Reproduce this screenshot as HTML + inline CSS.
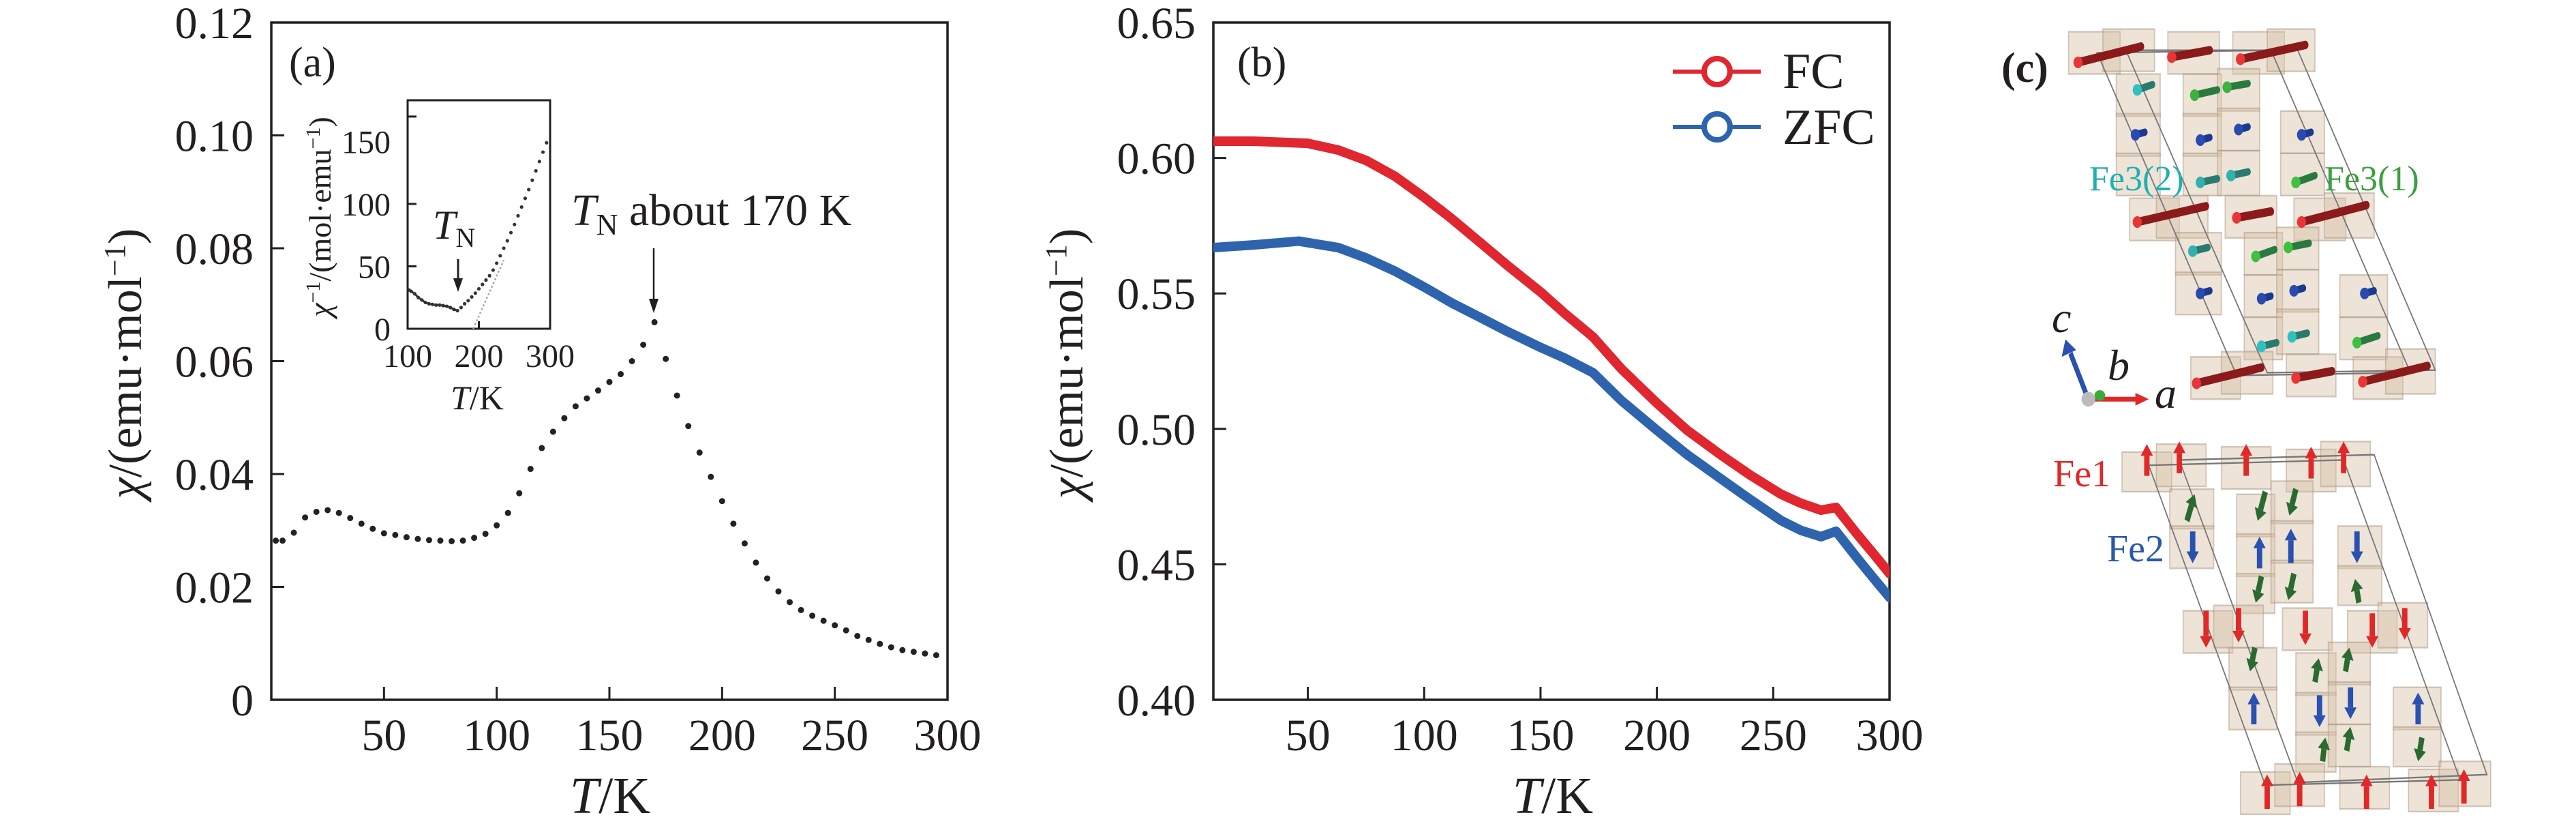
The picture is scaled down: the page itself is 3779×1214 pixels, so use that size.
<!DOCTYPE html>
<html><head><meta charset="utf-8"><style>
html,body{margin:0;padding:0;background:#fff;}
svg{display:block;font-family:"Liberation Serif",serif;}
</style></head><body>
<svg id="fig" width="3779" height="1214" viewBox="0 0 3779 1214" xmlns="http://www.w3.org/2000/svg">
<g id="pa"></g>
<g id="pin"></g>
<g id="pb"></g>
<g id="pc">
  <g id="pcg" transform="translate(2900,0) scale(0.5605,0.7752)"></g>
</g>
</svg>
<script>
// ---------- Panel (a) data ----------
const aTemps = [2,5,10,15,20,25,30,35,40,45,50,55,60,65,70,75,80,85,90,95,100,105,110,115,120,125,130,135,140,145,150,155,160,165,170,175,180,185,190,195,200,205,210,215,220,225,230,235,240,245,250,255,260,265,270,275,280,285,290,295];
const aChi = [0.0282,0.0282,0.0296,0.0323,0.0333,0.0336,0.0331,0.0322,0.0312,0.0303,0.0295,0.0292,0.0288,0.0285,0.0283,0.0282,0.0281,0.0282,0.0287,0.0294,0.0309,0.0331,0.0366,0.0409,0.0446,0.0475,0.0499,0.0520,0.0534,0.0548,0.0563,0.0577,0.0600,0.0629,0.0669,0.0604,0.0539,0.0485,0.0438,0.0395,0.0352,0.0312,0.0277,0.0243,0.0215,0.0192,0.0173,0.0159,0.0149,0.0140,0.0132,0.0123,0.0113,0.0106,0.0099,0.0093,0.0088,0.0085,0.0082,0.0079];
const aXTicks = [50,100,150,200,250,300];
const aYTicks = [0,0.02,0.04,0.06,0.08,0.10,0.12];
const aYLabels = ["0","0.02","0.04","0.06","0.08","0.10","0.12"];
// ---------- Inset data ----------
const inTemps = [102,105,110,115,120,125,130,135,140,145,150,155,160,165,170,175,180,185,190,195,200,205,210,215,220,225,230,235,240,245,250,255,260,265,270,275,280,285,290,295];
const inInv = [31,30,28,25,23,21,20,19.5,19,19,18.5,18,17,15.5,14.5,17,20,22.5,25.5,28.5,32,35.5,39,42.5,47,52.5,58.5,64.5,70.5,77,83.5,90.5,97.5,104.5,111.5,119,126.5,134,141.5,149];
const inFitT = [192,235];
const inFitV = [0,55];
const inYTicks = [50,100,170];
const inYLabVals = [0,50,100,150];
const inXLabVals = [100,200,300];
// ---------- Panel (b) data ----------
const fcT = [9.4,26.6,50,63.1,75.3,87.5,100.1,111.8,123.9,136.1,150.2,160.4,172.6,184.7,200,213,227.3,240,253.5,262,270.5,277,286,293,300];
const fcV = [0.6062,0.6062,0.6054,0.6029,0.5990,0.5932,0.5854,0.5776,0.5689,0.5601,0.5504,0.5426,0.5339,0.5222,0.5095,0.4995,0.4905,0.4830,0.4758,0.4725,0.4700,0.4710,0.4612,0.4540,0.4466];
const zfcT = [9.4,26.6,46.1,63.1,75.3,87.5,100.1,111.8,123.9,136.1,150.2,160.4,172.6,184.7,200,213,227.3,240,253.5,262,270.5,277,286,293,300];
const zfcV = [0.5669,0.5679,0.5693,0.5669,0.5630,0.5582,0.5523,0.5465,0.5412,0.5358,0.5300,0.5261,0.5207,0.5105,0.4995,0.4905,0.4817,0.4740,0.4661,0.4625,0.4602,0.4622,0.4524,0.4450,0.4378];
const bXTicks = [50,100,150,200,250,300];
const bYTicks = [0.40,0.45,0.50,0.55,0.60,0.65];

const NS="http://www.w3.org/2000/svg";
function mk(parent,tag,attrs,text){const e=document.createElementNS(NS,tag);for(const k in attrs)e.setAttribute(k,attrs[k]);if(text!==undefined)e.textContent=text;parent.appendChild(e);return e;}
const INK="#231f20";

// ===== Panel A =====
const pa=document.getElementById('pa');
const axL=398,axR=1390,axT=33,axB=1026;
const ax=t=>axL+(t-0)/(300-0)*(axR-axL);
const ay=v=>axB-(v-0)/(0.12-0)*(axB-axT);
let r=mk(pa,'rect',{x:axL,y:axT,width:axR-axL,height:axB-axT,fill:'none',stroke:INK,'stroke-width':3.5});


aXTicks.forEach(t=>{
  let l=mk(pa,'line',{x1:ax(t),x2:ax(t),y1:axB,y2:axB-19,stroke:INK,'stroke-width':3});
  
  
  let tx=mk(pa,'text',{x:ax(t),y:1100,'font-size':66,'text-anchor':'middle',fill:INK},String(t));
  
  
});
aYTicks.forEach((v,i)=>{
  let l=mk(pa,'line',{x1:axL,x2:axL+19,y1:ay(v),y2:ay(v),stroke:INK,'stroke-width':3});
  
  
  let tx=mk(pa,'text',{x:372,y:ay(v)+23,'font-size':66,'text-anchor':'end',fill:INK},aYLabels[i]);
  
  
});
aTemps.forEach((t,i)=>{
  let c=mk(pa,'circle',{cx:ax(t),cy:ay(aChi[i]),r:4.5,fill:'#222'});
  
  
});
// ===== Inset =====
const pin=document.getElementById('pin');
const iL=598,iR=807,iT=147,iB=482;
const ix=t=>iL+(t-100)/200*(iR-iL);
const iy=v=>iB-v/50*91.5;
r=mk(pin,'rect',{x:iL,y:iT,width:iR-iL,height:iB-iT,fill:'none',stroke:INK,'stroke-width':3});


inYTicks.forEach(v=>{
  let l=mk(pin,'line',{x1:iL,x2:iL+13,y1:iy(v),y2:iy(v),stroke:INK,'stroke-width':3});
  
  
});
let l0=mk(pin,'line',{x1:ix(200),x2:ix(200),y1:iB,y2:iB-11,stroke:INK,'stroke-width':3});


inYLabVals.forEach(v=>{
  let tx=mk(pin,'text',{x:573,y:iy(v)+17,'font-size':48,'text-anchor':'end',fill:INK},String(v));
  
  
});
inXLabVals.forEach(v=>{
  let tx=mk(pin,'text',{x:ix(v),y:538,'font-size':48,'text-anchor':'middle',fill:INK},String(v));
  
  
});
let fit=mk(pin,'line',{x1:ix(inFitT[0]),y1:iy(inFitV[0]),x2:ix(inFitT[1]),y2:iy(inFitV[1]),stroke:'#aaa','stroke-width':2.5,'stroke-dasharray':'3 3'});


inTemps.forEach((t,i)=>{
  let c=mk(pin,'circle',{cx:ix(t),cy:iy(inInv[i]),r:2.6,fill:'#333'});
  
  
});
let pl=mk(pin,'polyline',{points:inTemps.filter(t=>t<=172).map((t,i)=>ix(t)+','+iy(inInv[i])).join(' '),fill:'none',stroke:'#333','stroke-width':3});


</script>
<script>
// static text for panel a / inset
(function(){
const pa=document.getElementById('pa');const pin=document.getElementById('pin');
const NS="http://www.w3.org/2000/svg";
function add(p,html){const g=document.createElementNS(NS,'g');g.innerHTML=html;while(g.firstChild)p.appendChild(g.firstChild);}
add(pa,`<text x="424" y="112" font-size="62" fill="#231f20">(a)</text>
<text transform="translate(207,533) rotate(-90)" text-anchor="middle" font-size="70" fill="#231f20"><tspan font-style="italic">χ</tspan>/(emu·mol<tspan baseline-shift="super" font-size="44">−1</tspan>)</text>
<text x="895" y="1192" text-anchor="middle" font-size="76" fill="#231f20"><tspan font-style="italic">T</tspan>/K</text>
<text x="838" y="330" font-size="66" fill="#231f20"><tspan font-style="italic">T</tspan><tspan font-size="44" dy="14">N</tspan><tspan dy="-14"> about 170 K</tspan></text>
<line x1="959" y1="364" x2="959" y2="440" stroke="#231f20" stroke-width="2.5"/>
<polygon points="952,438 966,438 959,459" fill="#231f20"/>`);
add(pin,`<text transform="translate(485,318) rotate(-90)" text-anchor="middle" font-size="46" fill="#231f20"><tspan font-style="italic">χ</tspan><tspan baseline-shift="super" font-size="30">−1</tspan>/(mol·emu<tspan baseline-shift="super" font-size="30">−1</tspan>)</text>
<text x="700" y="600" text-anchor="middle" font-size="50" fill="#231f20"><tspan font-style="italic">T</tspan>/K</text>
<text x="635" y="350" font-size="60" fill="#231f20"><tspan font-style="italic">T</tspan><tspan font-size="40" dy="12">N</tspan></text>
<line x1="672" y1="380" x2="672" y2="412" stroke="#231f20" stroke-width="3"/>
<polygon points="665,408 679,408 672,428" fill="#231f20"/>`);
})();
</script>
<script>
// ===== Panel B =====
(function(){
const pb=document.getElementById('pb');const NS="http://www.w3.org/2000/svg";
function mk(parent,tag,attrs,text){const e=document.createElementNS(NS,tag);for(const k in attrs)e.setAttribute(k,attrs[k]);if(text!==undefined)e.textContent=text;parent.appendChild(e);return e;}
const INK="#231f20";
const bL=1780,bR=2772,bT=33,bB=1026;
const bx=t=>bL+(t-9.4)/(300-9.4)*(bR-bL);
const by=v=>bB-(v-0.40)/(0.25)*(bB-bT);
let cp=mk(pb,'clipPath',{id:'bclip'});mk(cp,'rect',{x:bL,y:bT,width:bR-bL,height:bB-bT});
let r=mk(pb,'rect',{x:bL,y:bT,width:bR-bL,height:bB-bT,fill:'none',stroke:INK,'stroke-width':3.5});


bXTicks.forEach(t=>{
  let l=mk(pb,'line',{x1:bx(t),x2:bx(t),y1:bB,y2:bB-19,stroke:INK,'stroke-width':3});
  
  
  let tx=mk(pb,'text',{x:bx(t),y:1100,'font-size':66,'text-anchor':'middle',fill:INK},String(t));
  
  
});
bYTicks.forEach(v=>{
  let l=mk(pb,'line',{x1:bL,x2:bL+19,y1:by(v),y2:by(v),stroke:INK,'stroke-width':3});
  
  
  let tx=mk(pb,'text',{x:1754,y:by(v)+23,'font-size':66,'text-anchor':'end',fill:INK},v.toFixed(2));
  
  
});
let g=mk(pb,'g',{'clip-path':'url(#bclip)'});
let z=mk(g,'polyline',{points:zfcT.map((t,i)=>bx(t)+','+by(zfcV[i])).join(' '),fill:'none',stroke:'#2e64ad','stroke-width':14,'stroke-linejoin':'round','stroke-linecap':'round'});


let f=mk(g,'polyline',{points:fcT.map((t,i)=>bx(t)+','+by(fcV[i])).join(' '),fill:'none',stroke:'#e0262e','stroke-width':14,'stroke-linejoin':'round','stroke-linecap':'round'});


const h=`<text x="1815" y="112" font-size="62" fill="#231f20">(b)</text>
<text transform="translate(1588,533) rotate(-90)" text-anchor="middle" font-size="70" fill="#231f20"><tspan font-style="italic">χ</tspan>/(emu·mol<tspan baseline-shift="super" font-size="44">−1</tspan>)</text>
<text x="2278" y="1192" text-anchor="middle" font-size="76" fill="#231f20"><tspan font-style="italic">T</tspan>/K</text>
<g><line x1="2454" x2="2583" y1="105" y2="105" stroke="#e0262e" stroke-width="6"/><circle cx="2519" cy="105" r="19" fill="#fff" stroke="#e0262e" stroke-width="8"/><text x="2615" y="129" font-size="74" fill="#231f20">FC</text></g>
<g><line x1="2454" x2="2583" y1="186" y2="186" stroke="#2e64ad" stroke-width="6"/><circle cx="2519" cy="186" r="19" fill="#fff" stroke="#2e64ad" stroke-width="8"/><text x="2615" y="211" font-size="74" fill="#231f20">ZFC</text></g>`;
const tmp=document.createElementNS(NS,'g');tmp.innerHTML=h;while(tmp.firstChild)pb.appendChild(tmp.firstChild);
})();
</script>
<script>
// ===== Panel C (structure illustration, zoom coordinates) =====
(function(){
const pcg=document.getElementById('pcg');const pc=document.getElementById('pc');const NS="http://www.w3.org/2000/svg";
function mk(parent,tag,attrs){const e=document.createElementNS(NS,tag);for(const k in attrs)e.setAttribute(k,attrs[k]);parent.appendChild(e);return e;}
const boxes=[[240,60,135,80],[330,55,135,80],[500,60,135,80],[670,60,135,80],[760,55,125,80],
[365,140,115,80],[365,215,115,80],[365,290,115,80],
[540,140,100,80],[540,215,100,80],[540,290,100,80],[630,130,110,80],[630,205,110,80],[630,285,110,85],
[795,210,115,80],[795,290,115,80],
[400,375,130,80],[470,370,135,80],[650,370,135,80],[830,375,135,80],[910,365,130,85],
[520,440,120,80],[520,515,120,80],
[700,440,100,80],[700,520,100,80],[700,600,100,80],[785,430,110,80],[785,510,110,80],[785,585,110,85],
[950,520,125,80],[950,600,125,80],
[560,675,130,80],[640,665,135,80],[810,670,130,80],[985,675,130,80],[1070,660,130,85],
[380,855,130,75],[470,840,130,80],[640,845,130,80],[810,850,130,80],[900,835,130,85],
[505,925,115,75],[505,995,115,80],
[680,935,100,80],[680,1010,100,80],[680,1085,100,75],[770,910,110,80],[770,985,110,80],[770,1060,110,80],
[945,995,115,80],[945,1070,115,75],
[540,1155,130,80],[620,1145,130,80],[800,1150,130,80],[970,1155,130,80],[1050,1140,130,85],
[660,1225,125,80],[660,1300,125,80],
[835,1235,105,80],[835,1310,105,80],[835,1385,105,75],[920,1215,110,80],[920,1290,110,80],[920,1370,110,80],
[1090,1300,125,80],[1090,1375,125,75],
[690,1460,130,80],[780,1445,130,80],[950,1450,130,80],[1130,1455,130,80],[1210,1440,135,85]];
boxes.forEach(b=>{
  let e=mk(pcg,'rect',{x:b[0],y:b[1],width:b[2],height:b[3],fill:'rgba(214,192,166,0.45)',stroke:'rgba(170,150,130,0.5)','stroke-width':3});
  
  
});
const cells=[[[315,100],[770,95],[1135,705],[680,710]],[[390,95],[840,95],[1200,700],[760,705]],
[[450,880],[960,870],[1265,1475],[755,1485]],[[530,870],[1040,860],[1335,1465],[840,1480]]];
cells.forEach(c=>{
  let e=mk(pcg,'polygon',{points:c.map(p=>p.join(',')).join(' '),fill:'none',stroke:'#777','stroke-width':3});
  
  
});
const rods=[[265,118,430,88,'#8b1a1a','#e83535',16],[510,108,610,95,'#8b1a1a','#e83535',16],[690,112,860,85,'#8b1a1a','#e83535',16],
[420,420,600,390,'#8b1a1a','#e83535',16],[680,412,770,400,'#8b1a1a','#e83535',16],[850,420,1020,388,'#8b1a1a','#e83535',16],
[575,725,745,695,'#8b1a1a','#e83535',16],[835,715,930,702,'#8b1a1a','#e83535',16],[1010,722,1180,692,'#8b1a1a','#e83535',16],
[420,170,460,160,'#2a7a70','#30c0c0',14],[570,180,630,170,'#2a7a40','#40b040',14],[655,165,710,158,'#2a7a40','#40b040',14],
[585,345,630,338,'#2a7a70','#30b0b0',14],[665,332,710,325,'#2a7a70','#30b0b0',14],[835,345,885,332,'#2a7a40','#40c040',14],
[565,475,605,468,'#2a7a70','#30b0b0',14],[730,485,780,472,'#2a7a40','#40c040',14],[815,468,870,460,'#2a7a40','#40c040',14],
[745,655,785,648,'#2a7a70','#30c0c0',14],[825,637,865,630,'#2a7a70','#30c0c0',14],[995,648,1050,635,'#2a7a40','#40c040',14],
[415,255,440,250,'#1a3a90','#2a4ab0',14],[585,265,610,260,'#1a3a90','#2a4ab0',14],[685,245,710,240,'#1a3a90','#2a4ab0',14],[850,255,875,250,'#1a3a90','#2a4ab0',14],
[585,555,610,550,'#1a3a90','#2a4ab0',14],[745,565,770,560,'#1a3a90','#2a4ab0',14],[830,550,855,545,'#1a3a90','#2a4ab0',14],[1015,555,1040,550,'#1a3a90','#2a4ab0',14]];
rods.forEach(d=>{
  let g=mk(pcg,'g',{});
  
  
  mk(g,'line',{x1:d[0],y1:d[1],x2:d[2],y2:d[3],stroke:d[4],'stroke-width':d[6],'stroke-linecap':'round'});
  mk(g,'ellipse',{cx:d[0],cy:d[1],rx:12,ry:11,fill:d[5]});
});
const arrows=[[445,900,445,840,'#e02828'],[530,895,530,835,'#e02828'],[705,900,705,840,'#e02828'],[875,905,875,845,'#e02828'],[960,895,960,835,'#e02828'],
[600,1155,600,1225,'#e02828'],[685,1150,685,1215,'#e02828'],[860,1155,860,1220,'#e02828'],[1035,1160,1035,1225,'#e02828'],[1120,1150,1120,1210,'#e02828'],
[760,1530,760,1465,'#e02828'],[845,1525,845,1460,'#e02828'],[1020,1530,1020,1465,'#e02828'],[1190,1530,1190,1465,'#e02828'],[1275,1520,1275,1455,'#e02828'],
[565,1005,565,1065,'#2a50b0'],[740,1075,740,1015,'#2a50b0'],[822,1065,822,1000,'#2a50b0'],[995,1005,995,1065,'#2a50b0'],
[725,1370,725,1310,'#2a50b0'],[897,1315,897,1375,'#2a50b0'],[978,1300,978,1360,'#2a50b0'],[1155,1370,1155,1310,'#2a50b0'],
[550,985,570,935,'#2a6a30'],[755,930,735,985,'#2a6a30'],[835,925,818,975,'#2a6a30'],[745,1090,730,1140,'#2a6a30'],[830,1085,815,1135,'#2a6a30'],[1000,1140,990,1095,'#2a6a30'],
[728,1225,715,1270,'#2a6a30'],[885,1290,895,1245,'#2a6a30'],[965,1270,975,1225,'#2a6a30'],[905,1440,912,1395,'#2a6a30'],[968,1420,978,1375,'#2a6a30'],[1165,1395,1155,1440,'#2a6a30']];
arrows.forEach(a=>{
  const dx=a[2]-a[0],dy=a[3]-a[1],L=Math.hypot(dx,dy),ux=dx/L,uy=dy/L,hl=22,hw=16;
  const bx=a[2]-ux*hl,by=a[3]-uy*hl;
  let g=mk(pcg,'g',{});
  
  
  mk(g,'line',{x1:a[0],y1:a[1],x2:bx,y2:by,stroke:a[4],'stroke-width':14});
  mk(g,'polygon',{points:`${a[2]},${a[3]} ${bx-uy*hw},${by+ux*hw} ${bx+uy*hw},${by-ux*hw}`,fill:a[4]});
});
// axes triad
const h=`<g><line x1="290" y1="752" x2="245" y2="668" stroke="#2a50b0" stroke-width="12"/><polygon points="232,642 222,675 260,662" fill="#2a50b0"/>
<line x1="290" y1="755" x2="420" y2="755" stroke="#e02828" stroke-width="9"/><polygon points="450,755 415,743 415,767" fill="#e02828"/>
<ellipse cx="322" cy="748" rx="14" ry="10" fill="#3aaa3a"/><ellipse cx="292" cy="755" rx="18" ry="14" fill="#bbb"/></g>`;
const tmp=document.createElementNS(NS,'g');tmp.innerHTML=h;while(tmp.firstChild)pcg.appendChild(tmp.firstChild);
const t=`<text x="2936" y="120" font-size="62" font-weight="bold" fill="#231f20">(c)</text>
<text x="3065" y="279" font-size="52" fill="#20b0b0">Fe3(2)</text>
<text x="3410" y="279" font-size="52" fill="#3aa040">Fe3(1)</text>
<text x="3010" y="487" font-size="64" font-style="italic" fill="#231f20">c</text>
<text x="3092" y="557" font-size="64" font-style="italic" fill="#231f20">b</text>
<text x="3161" y="598" font-size="64" font-style="italic" fill="#231f20">a</text>
<text x="3012" y="713" font-size="56" fill="#e02828">Fe1</text>
<text x="3091" y="823" font-size="56" fill="#2a5aa8">Fe2</text>`;
const tmp2=document.createElementNS(NS,'g');tmp2.innerHTML=t;while(tmp2.firstChild)pc.appendChild(tmp2.firstChild);
})();
</script>
</body></html>
